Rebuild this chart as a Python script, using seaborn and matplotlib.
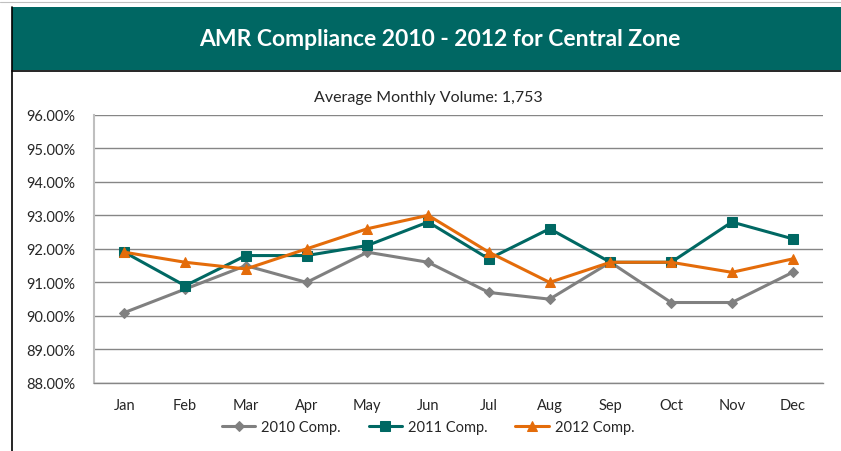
import pandas as pd
import matplotlib.pyplot as plt
import seaborn as sns
from matplotlib.patches import Rectangle
from matplotlib.lines import Line2D
from matplotlib.ticker import FuncFormatter, FixedLocator

months = ['Jan', 'Feb', 'Mar', 'Apr', 'May', 'Jun', 'Jul', 'Aug', 'Sep', 'Oct', 'Nov', 'Dec']
comp_2010 = [90.1, 90.8, 91.5, 91.0, 91.9, 91.6, 90.7, 90.5, 91.6, 90.4, 90.4, 91.3]
comp_2011 = [91.9, 90.9, 91.8, 91.8, 92.1, 92.8, 91.7, 92.6, 91.6, 91.6, 92.8, 92.3]
comp_2012 = [91.9, 91.6, 91.4, 92.0, 92.6, 93.0, 91.9, 91.0, 91.6, 91.6, 91.3, 91.7]
series_names = ['2010 Comp.', '2011 Comp.', '2012 Comp.']
title = 'AMR Compliance 2010 - 2012 for Central Zone'
subtitle = 'Average Monthly Volume: 1,753'

colors = {'2010 Comp.': '#808080', '2011 Comp.': '#006863', '2012 Comp.': '#E46C0A'}
markers = {'2010 Comp.': 'D', '2011 Comp.': 's', '2012 Comp.': '^'}
msizes = {'2010 Comp.': 5, '2011 Comp.': 7, '2012 Comp.': 7.5}

df = pd.DataFrame({'month': months, '2010 Comp.': comp_2010,
                   '2011 Comp.': comp_2011, '2012 Comp.': comp_2012})
long = df.melt(id_vars='month', var_name='series', value_name='value')

sns.set_style('white')
plt.rcParams['font.family'] = ['Lato', 'DejaVu Sans']

W, H = 841, 452
fig = plt.figure(figsize=(W / 100, H / 100), dpi=100)

# banner
fig.patches.append(Rectangle((12 / W, 1 - 71 / H), 1, 63 / H, transform=fig.transFigure,
                             facecolor='#006763', edgecolor='none', zorder=0))
fig.lines.append(Line2D([12 / W, 1], [1 - 71.5 / H] * 2, transform=fig.transFigure,
                        color='black', lw=1.2))
fig.lines.append(Line2D([12 / W] * 2, [0, 1 - 8 / H], transform=fig.transFigure,
                        color='black', lw=1.2))
fig.lines.append(Line2D([0, 1], [1 - 3 / H] * 2, transform=fig.transFigure,
                        color='#C0C0C0', lw=0.8))
fig.text(440 / W, 1 - 40 / H, title, ha='center', va='center', color='white',
         fontsize=16.5, fontweight='bold')
fig.text(428 / W, 1 - 98 / H, subtitle, ha='center', va='center', fontsize=11.5)

ax = fig.add_axes([94 / W, (H - 384) / H, 729 / W, (384 - 115.7) / H])
for name in series_names:
    sub = long[long['series'] == name]
    sns.lineplot(data=sub, x='month', y='value', sort=False, ax=ax, color=colors[name],
                 marker=markers[name], markersize=msizes[name], markeredgecolor=colors[name],
                 linewidth=2.2, label=name, zorder=3)

ax.set_ylim(88, 96)
ax.set_xlim(-0.5, len(months) - 0.5)
ax.set_yticks(range(88, 97))
ax.yaxis.set_major_formatter(FuncFormatter(lambda v, p: '%.2f%%' % v))
ax.yaxis.grid(True, color='#868686', lw=1)
ax.set_axisbelow(True)
ax.set_xlabel('')
ax.set_ylabel('')
ax.xaxis.set_minor_locator(FixedLocator([i - 0.5 for i in range(len(months) + 1)]))
ax.tick_params(axis='x', which='major', length=0, pad=11, labelsize=10.5)
ax.tick_params(axis='x', which='minor', length=5, color='#868686', width=1, direction='out')
ax.tick_params(axis='y', length=5, color='#868686', width=1, pad=8.5, labelsize=10.5)
for s in ['top', 'right']:
    ax.spines[s].set_visible(False)
ax.spines['left'].set_color('#BFBFBF')
ax.spines['left'].set_linewidth(1.5)
ax.spines['bottom'].set_color('#868686')
ax.spines['bottom'].set_linewidth(1)

ax.legend(loc='center', bbox_to_anchor=(428 / W, 1 - 428 / H), bbox_transform=fig.transFigure,
          ncol=3, frameon=False, fontsize=10.5, handlelength=2.3, columnspacing=1.9,
          handletextpad=0.4)

fig.savefig('out.png', dpi=100)
